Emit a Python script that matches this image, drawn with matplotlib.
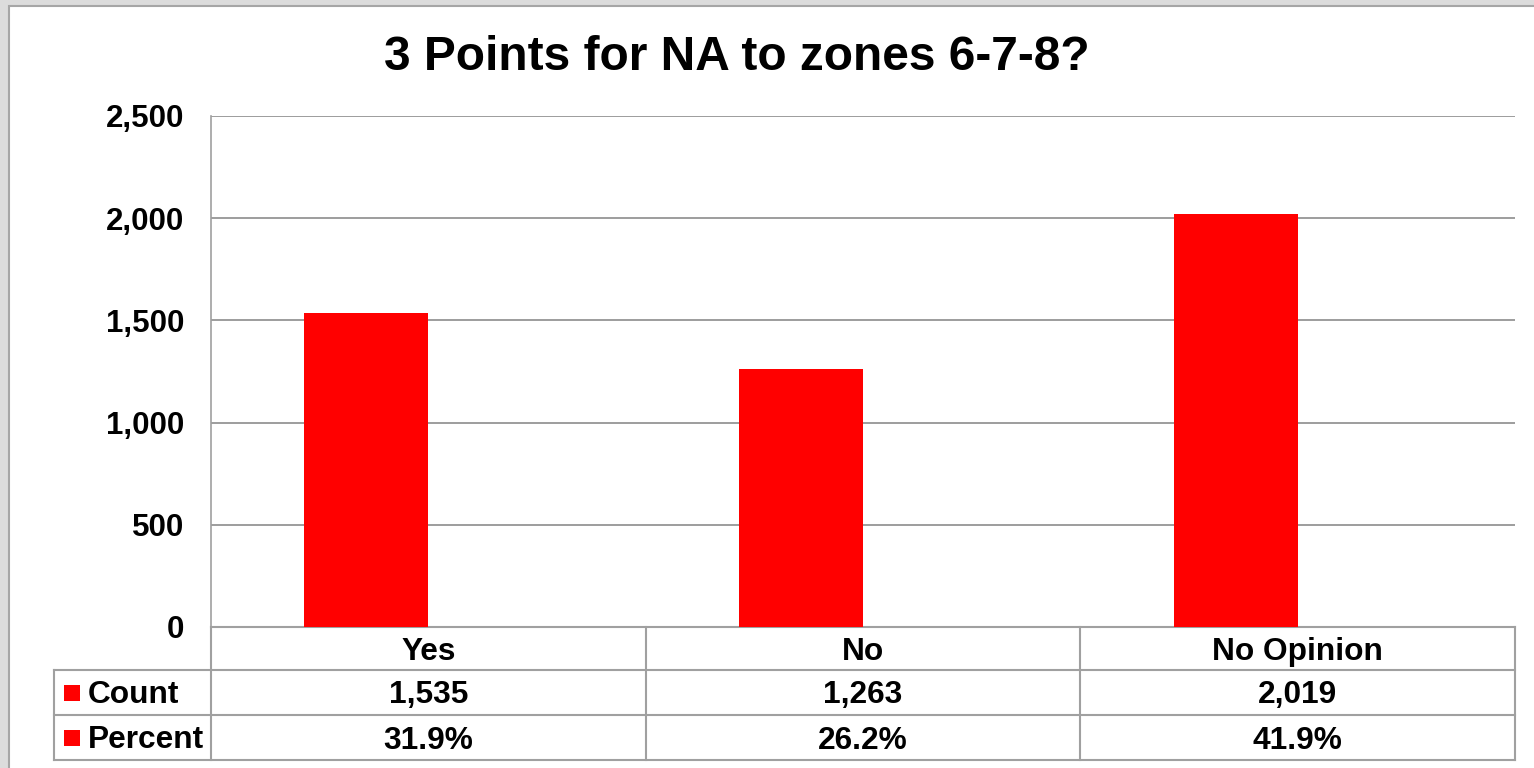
import matplotlib
matplotlib.use("Agg")
import matplotlib.pyplot as plt
from matplotlib.patches import Rectangle
from matplotlib.lines import Line2D
from matplotlib.transforms import blended_transform_factory
from matplotlib.ticker import FuncFormatter

categories = ["Yes", "No", "No Opinion"]
count = [1535, 1263, 2019]
percent = [0.319, 0.262, 0.419]
series_names = ["Count", "Percent"]
title = "3 Points for NA to zones 6-7-8?"

plt.rcParams['font.family'] = ['Liberation Sans', 'DejaVu Sans']

W, H = 1534, 768
fig = plt.figure(figsize=(W / 100, H / 100), dpi=100)
fig.patch.set_facecolor('#dcdcdc')

def fx(x):
    return x / W

def fy(y):
    return 1 - y / H

# white chart area with border
fig.patches.append(Rectangle((fx(9), -0.01), fx(W - 9) + 0.01, fy(6) + 0.01, transform=fig.transFigure,
                             facecolor='white', edgecolor='#a6a6a6', linewidth=1.5, zorder=-10))

left, right, top, bottom = 211, 1515, 116, 627
ax = fig.add_axes([fx(left), fy(bottom), fx(right - left), (bottom - top) / H])
ax.set_facecolor('none')
ax.set_zorder(1)

n = len(categories)
xs = list(range(n))
bw = 0.285
off = 0.1425
ax.bar([x - off for x in xs], count, width=bw, color='#ff0000', zorder=3)
ax.bar([x + off for x in xs], percent, width=bw, color='#ff0000', zorder=3)

ax.set_xlim(-0.5, n - 0.5)
ax.set_ylim(0, 2500)
ax.set_yticks([0, 500, 1000, 1500, 2000, 2500])
ax.yaxis.set_major_formatter(FuncFormatter(lambda v, p: f"{int(v):,}"))
ax.tick_params(axis='y', length=0, pad=19, labelsize=22.5)
for lab in ax.get_yticklabels():
    lab.set_fontweight('bold')
ax.set_xticks([])
ax.grid(axis='y', color='#8c8c8c', linewidth=1.2, zorder=0)
for s in ['top', 'right', 'bottom']:
    ax.spines[s].set_visible(False)
ax.spines['left'].set_color('#a0a0a0')
ax.spines['left'].set_linewidth(1.2)

fig.text(fx(737), fy(58), title, ha='center', va='center', fontsize=34.5, fontweight='bold')

# data table
tr = blended_transform_factory(ax.transData, fig.transFigure)
lc = '#a0a0a0'
x0 = -0.5
x1 = n - 0.5
lab_left_d = ax.transData.inverted().transform(fig.transFigure.transform((fx(54), 0)))[0]

def hline(xa, xb, y):
    ax.add_line(Line2D([xa, xb], [fy(y), fy(y)], transform=tr, color=lc, lw=1.5, clip_on=False))

def vline(x, ya, yb):
    ax.add_line(Line2D([x, x], [fy(ya), fy(yb)], transform=tr, color=lc, lw=1.5, clip_on=False))

hline(x0, x1, 627)
hline(lab_left_d, x1, 670)
hline(lab_left_d, x1, 715)
hline(lab_left_d, x1, 760)
vline(x0, 627, 760)
for k in range(1, n + 1):
    vline(k - 0.5, 627, 760)
vline(lab_left_d, 670, 760)

fs = 22.8
for i, c in enumerate(categories):
    ax.text(i, fy(652), c, transform=tr, ha='center', va='center', fontsize=fs, fontweight='bold', clip_on=False)
    ax.text(i, fy(695), f"{count[i]:,}", transform=tr, ha='center', va='center', fontsize=fs, fontweight='bold', clip_on=False)
    ax.text(i, fy(741), f"{percent[i]:.1%}", transform=tr, ha='center', va='center', fontsize=fs, fontweight='bold', clip_on=False)

for name, yc in zip(series_names, [693, 738]):
    fig.patches.append(Rectangle((fx(64), fy(yc + 8)), fx(16), 16 / H, transform=fig.transFigure,
                                 facecolor='#ff0000', edgecolor='none'))
    fig.text(fx(88), fy(yc + 2), name, ha='left', va='center', fontsize=fs, fontweight='bold')

fig.savefig("out.png", dpi=100)
